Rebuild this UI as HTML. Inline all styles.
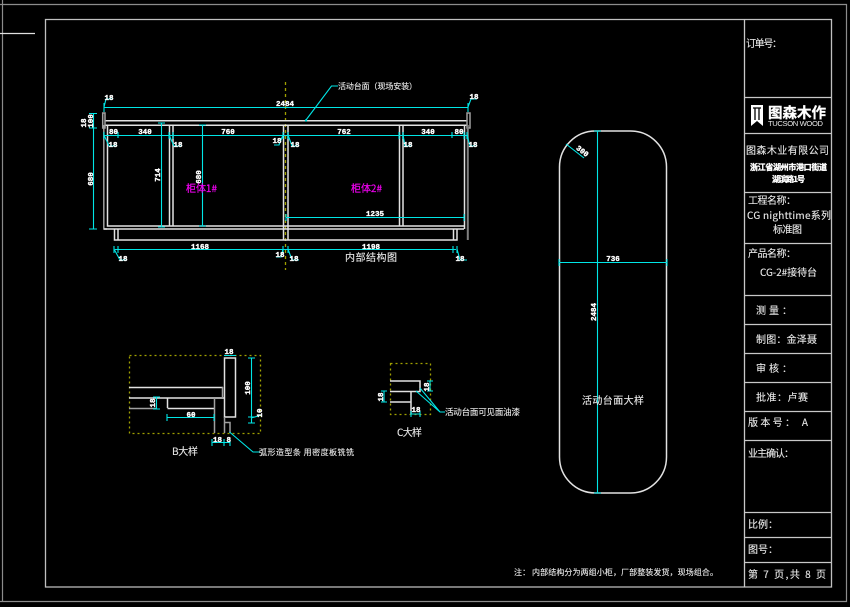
<!DOCTYPE html>
<html><head><meta charset="utf-8">
<style>
html,body{margin:0;padding:0;background:#000;width:850px;height:607px;overflow:hidden}
svg{display:block}
.w{font-family:"WenQuanYi Zen Hei","Noto Sans CJK SC",sans-serif;fill:#e8e8e8;font-size:10px;stroke:#e8e8e8;stroke-width:.12}
.d{font-family:"Liberation Mono",monospace;font-weight:bold;fill:#fff;stroke:#fff;stroke-width:.35;font-size:7.5px;text-anchor:middle}
.b{stroke:#e2e2e2;stroke-width:1.5;fill:none}
.g{stroke:#a0a0a0;stroke-width:1.5;fill:none}
.c{stroke:#00e6e6;stroke-width:1.1;fill:none}
.o{stroke:#a0a000;stroke-width:1.3;fill:none;stroke-dasharray:2 3}
</style></head><body>
<svg width="850" height="607" viewBox="0 0 850 607" xmlns="http://www.w3.org/2000/svg">
<rect width="850" height="607" fill="#000"/>
<!-- frames -->
<path d="M0 4.500H846.500V601.500H0M2.500 0V602" stroke="#8c8c8c" stroke-width="1.2" fill="none"/>
<path d="M0 33.500H35" stroke="#e0e0e0" stroke-width="1.2" fill="none"/>
<path d="M45.500 587V19.500H831.500V587Z" stroke="#c0c0c0" stroke-width="1.3" fill="none"/>
<path d="M744.500 19.500V587M744 97.500H831M744 133.500H831M744 192.500H831M744 243.500H831M744 295.500H831M744 324.500H831M744 353.500H831M744 382.500H831M744 411.500H831M744 440.500H831M744 512.500H831M744 537.500H831M744 562.500H831" stroke="#c8c8c8" stroke-width="1.3" fill="none"/>
<!-- title block -->
<text class="w" x="746" y="47" textLength="36" lengthAdjust="spacing">订单号：</text>
<path d="M751 105H763V126L757 121L751 126Z" fill="#fff"/>
<path d="M753 108H761M755 108V120M759 108V120" stroke="#000" stroke-width="1.3" fill="none"/>
<text x="768" y="118" font-family="WenQuanYi Zen Hei,Noto Sans CJK SC,sans-serif" font-weight="bold" font-size="14.500" fill="#fff" stroke="#fff" stroke-width=".3">图森木作</text>
<text x="768" y="126" font-family="Liberation Sans,sans-serif" font-size="7.600" fill="#e8e8e8" textLength="55">TUCSON WOOD</text>
<text class="w" x="746" y="154" textLength="83">图森木业有限公司</text>
<text x="750" y="170" font-family="WenQuanYi Zen Hei,Noto Sans CJK SC,sans-serif" font-weight="bold" font-size="8" fill="#fff" stroke="#fff" stroke-width=".35" textLength="77">浙江省湖州市港口街道</text>
<text x="772" y="182" font-family="WenQuanYi Zen Hei,Noto Sans CJK SC,sans-serif" font-weight="bold" font-size="8" fill="#fff" stroke="#fff" stroke-width=".35" textLength="33">湖滨路1号</text>
<text class="w" x="748" y="204" textLength="48">工程名称：</text>
<text class="w" x="747" y="219" textLength="84">CG nighttime系列</text>
<text class="w" x="773" y="233" textLength="29">标准图</text>
<text class="w" x="748" y="257" textLength="48">产品名称：</text>
<text class="w" x="760" y="276" textLength="57">CG-2#接待台</text>
<text class="w" x="756" y="314" textLength="36">测量：</text>
<text class="w" x="756" y="343" textLength="61">制图：金泽聂</text>
<text class="w" x="756" y="372" textLength="36">审核：</text>
<text class="w" x="756" y="401" textLength="52">批准：卢赛</text>
<text class="w" x="748" y="426" textLength="60">版本号： A</text>
<text class="w" x="748" y="457" textLength="46">业主确认：</text>
<text class="w" x="748" y="528" textLength="30">比例：</text>
<text class="w" x="748" y="553" textLength="30">图号：</text>
<text class="w" x="748" y="578" textLength="78">第 7 页,共 8 页</text>
<text class="w" style="font-size:8px" x="514" y="575" textLength="204">注： 内部结构分为两组小柜，厂部整装发货，现场组合。</text>
<!-- main cabinet -->
<path d="M285.500 82V270" stroke="#a0a000" stroke-width="1.300" stroke-dasharray="3 3" fill="none"/>
<path d="M105 120.700H467M105 125.300H467" class="b"/>
<path d="M102.700 113V128H105V113ZM467 113V128H470V113H467Z" class="g"/>
<path d="M103.800 125V229H107" class="g"/>
<path d="M107.500 125V226H464M104 229H464" class="b"/>
<path d="M464.500 125V229M169.500 125V226M173 125V226M283.500 125V240M288 125V240M399.500 125V226M403 125V226" class="b"/>
<path d="M467.800 125V240" stroke="#808080" stroke-width="2" fill="none"/>
<path d="M114.500 229V240H457V229M118 229V239.500M453.500 229V239.500" class="b"/>
<!-- dims main -->
<path d="M104 107.500H468M104 135.500H468M115 249.500H456M93.500 113V229M161.500 123V227M202.500 125V226M286 217.500H464" class="c"/>
<path d="M104 103V112M468 103V112M104 132V139M118 132V138M169 132V139M173 132V139M283 132V139M288 132V139M399 132V139M403 132V139M452 132V138M464 132V139M467 132V139M114 246V253M118 246V253M283 246V253M288 246V253M453 246V253M457 246V253M89 113.500H97M89 128H97M89 229H97M158 123H165M158 227H165M199 125H206M199 226H206M286 214V221M464 214V221" class="c"/>
<path d="M104 107L106 99H112M104 135L109 146H116M169 135L174 146H181M283 135L279 145H274M288 135L292 146H298M403 135L405 146H412M467 135L470 146H476M114 249L120 260H127M283 249L281 257H276M288 249L292 260H299M457 249L460 260H467M468 107L471 99H477" class="c"/>
<path d="M306 120L331.500 86H338" class="c"/>
<circle cx="306" cy="120.500" r="1.200" fill="#00e6e6"/>
<text class="d" x="109" y="100">18</text>
<text class="d" x="285" y="106">2484</text>
<text class="d" x="474" y="99">18</text>
<text class="d" x="113.500" y="134">80</text>
<text class="d" x="145" y="134">340</text>
<text class="d" x="228" y="134">760</text>
<text class="d" x="344" y="134">762</text>
<text class="d" x="428" y="134">340</text>
<text class="d" x="459" y="134">80</text>
<text class="d" x="113" y="147">18</text>
<text class="d" x="178" y="147">18</text>
<text class="d" x="277" y="143">18</text>
<text class="d" x="295" y="147">18</text>
<text class="d" x="408" y="147">18</text>
<text class="d" x="473" y="147">18</text>
<text class="d" x="375" y="216">1235</text>
<text class="d" x="200" y="249">1168</text>
<text class="d" x="371" y="249">1198</text>
<text class="d" x="123" y="261">18</text>
<text class="d" x="280" y="257">18</text>
<text class="d" x="294" y="261">18</text>
<text class="d" x="460" y="261">18</text>
<text class="d" transform="translate(160,175) rotate(-90)">714</text>
<text class="d" transform="translate(201,177) rotate(-90)">680</text>
<text class="d" transform="translate(93,179) rotate(-90)">680</text>
<text class="d" transform="translate(93,121) rotate(-90)">100</text>
<text class="d" transform="translate(86,123) rotate(-90)">18</text>
<text x="186" y="192" font-family="WenQuanYi Zen Hei,Noto Sans CJK SC,sans-serif" font-size="10" fill="#f000f0" stroke="#f000f0" stroke-width=".2" textLength="31">柜体1#</text>
<text x="351" y="192" font-family="WenQuanYi Zen Hei,Noto Sans CJK SC,sans-serif" font-size="10" fill="#f000f0" stroke="#f000f0" stroke-width=".2" textLength="31">柜体2#</text>
<text class="w" style="font-size:8px" x="338" y="89" textLength="79">活动台面（现场安装）</text>
<text class="w" x="345" y="261" textLength="52">内部结构图</text>
<!-- top view -->
<rect x="559.500" y="131" width="107" height="362" rx="36" ry="36" class="b"/>
<path d="M597.500 131V493M559 262.500H667M566 144L584 158" class="c"/>
<path d="M594 131H601M594 493H601M559 259V266M667 259V266" class="c"/>
<text class="d" x="613" y="261">736</text>
<text class="d" transform="translate(596,312) rotate(-90)">2484</text>
<text class="d" transform="translate(581,153) rotate(38)">300</text>
<text class="w" x="582" y="404" textLength="62">活动台面大样</text>
<!-- B detail -->
<rect x="129.500" y="355.500" width="131" height="78" class="o"/>
<path d="M224.500 358H235.500V417H224.500ZM129 387.500H223M129 398H224M167.500 408.500H214M167.500 398V408" class="b"/>
<path d="M129 408.500H157M214.500 398V433M222.500 387V398M224.500 417V433M224.500 422.500H230V433" class="g"/>
<path d="M224 355.500H236M251.500 358V423M156.500 397V409M167 417.500H214M212 442.500H230M248 358H255M248 417H255M248 423H255M153 397H160M153 409H160M167 414V421M214 414V421M212 439V446M224 439V446M230 439V446M251 418L262 415M229.500 432L253 452H260" class="c"/>
<text class="d" x="229" y="354">18</text>
<text class="d" transform="translate(250,388) rotate(-90)">100</text>
<text class="d" transform="translate(262,413) rotate(-90)">10</text>
<text class="d" transform="translate(155,403) rotate(-90)">18</text>
<text class="d" x="191" y="417">60</text>
<text class="d" x="222" y="442">18 8</text>
<text class="w" x="172" y="455" textLength="26">B大样</text>
<text class="w" style="font-size:8px" x="259" y="455" textLength="95">弧形造型条 用密度板铣铣</text>
<!-- C detail -->
<rect x="390.500" y="363.500" width="40" height="51" class="o"/>
<path d="M390 381H420V391.500H390M390 402H411V414M411 391.500V402" class="b"/>
<path d="M430 381V391M384 391V402M411 414H420M427 381H433M427 391H433M381 391H387M381 402H387M411 411V417M420 411V417M420 388L440 412M416 391L440 412H445" class="c"/>
<text class="d" transform="translate(429,387) rotate(-90)">18</text>
<text class="d" transform="translate(383,397) rotate(-90)">18</text>
<text class="d" x="416" y="412">18</text>
<text class="w" style="font-size:8.500px" x="445" y="415" textLength="75">活动台面可见面油漆</text>
<text class="w" x="397" y="436" textLength="25">C大样</text>
</svg>
</body></html>
